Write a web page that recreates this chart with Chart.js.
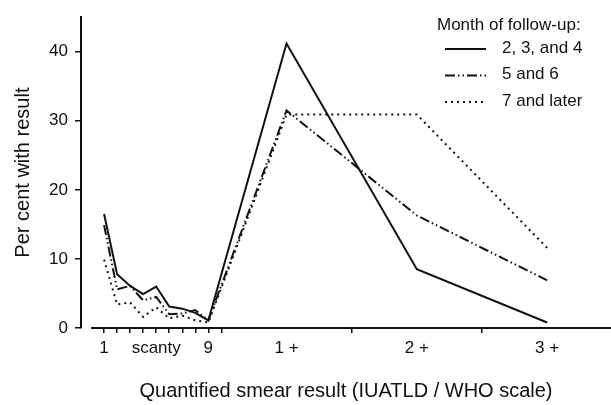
<!DOCTYPE html>
<html>
<head>
<meta charset="utf-8">
<script src="https://cdn.jsdelivr.net/npm/chart.js@4.4.1/dist/chart.umd.min.js"></script>
<style>
  html, body { margin: 0; padding: 0; background: #fff; }
  #wrap { width: 611px; height: 405px; }
</style>
</head>
<body>
<div id="wrap"><canvas id="myChart" width="611" height="405"></canvas></div>
<script>
// smear grades: scanty 1..9 then 1+, 2+, 3+
const categories = ["1", "2", "3", "4", "5", "6", "7", "8", "9", "1 +", "2 +", "3 +"];
const positions = [1, 2, 3, 4, 5, 6, 7, 8, 9, 15, 25, 35];

const seriesLabels = ["2, 3, and 4", "5 and 6", "7 and later"];
const months234 = [16.5, 7.8, 6.1, 4.9, 6.0, 3.1, 2.8, 2.2, 1.1, 41.2, 8.5, 0.8];
const months56 = [14.9, 5.6, 6.1, 4.0, 4.5, 2.0, 2.1, 2.6, 1.1, 31.5, 16.3, 6.9];
const months7plus = [9.9, 3.4, 3.7, 1.6, 3.0, 1.4, 1.8, 1.1, 0.8, 30.9, 30.9, 11.6];

// tick labels shown under the axis, tick marks drawn at the rest
const xTickLabels = { 1: "1", 5: "scanty", 9: "9", 15: "1 +", 25: "2 +", 35: "3 +" };
const xTickMarks = [1, 2, 3, 4, 5, 6, 7, 8, 9, 10, 20, 30];
const yTicks = [0, 10, 20, 30, 40];

const ink = "#111";
const font = "'Liberation Sans', Arial, Helvetica, sans-serif";

function pts(vals) {
	return vals.map((v, i) => ({ x: positions[i], y: v }));
}

const styles = [
	{ dash: [] },
	{ dash: [10, 3, 1.5, 3, 1.5, 3] },
	{ dash: [2, 4] },
];

const datasets = [months234, months56, months7plus].map((vals, i) => ({
	label: seriesLabels[i],
	data: pts(vals),
	borderColor: ink,
	borderWidth: 2,
	borderDash: styles[i].dash,
	pointRadius: 0,
	fill: false,
	tension: 0,
}));

// x axis line starts a bit right of the y axis, like the original
const axisLine = {
	id: "axisLine",
	beforeDatasetsDraw(chart) {
		const { ctx, chartArea } = chart;
		const x0 = chart.scales.x.getPixelForValue(0);
		ctx.save();
		ctx.strokeStyle = ink;
		ctx.lineWidth = 2;
		ctx.beginPath();
		ctx.moveTo(x0, chartArea.bottom);
		ctx.lineTo(chartArea.right, chartArea.bottom);
		ctx.stroke();
		ctx.restore();
	},
};

// legend in the upper right corner
const cornerLegend = {
	id: "cornerLegend",
	afterDraw(chart) {
		const { ctx } = chart;
		ctx.save();
		ctx.fillStyle = ink;
		ctx.font = "17px " + font;
		ctx.textBaseline = "middle";
		ctx.textAlign = "left";
		ctx.fillText("Month of follow-up:", 437, 25);
		chart.data.datasets.forEach((ds, i) => {
			const y = 49 + i * 26.5;
			ctx.strokeStyle = ds.borderColor;
			ctx.lineWidth = 2;
			ctx.setLineDash(ds.borderDash);
			ctx.beginPath();
			ctx.moveTo(445, y);
			ctx.lineTo(486, y);
			ctx.stroke();
			ctx.setLineDash([]);
			ctx.fillText(ds.label, 502, y - 1);
		});
		ctx.restore();
	},
};

new Chart(document.getElementById("myChart").getContext("2d"), {
	type: "line",
	data: { datasets },
	options: {
		responsive: false,
		animation: false,
		devicePixelRatio: 1,
		layout: { padding: { top: 12, right: 0, bottom: 0, left: 0 } },
		plugins: { legend: { display: false }, tooltip: { enabled: false } },
		scales: {
			x: {
				type: "linear",
				min: -0.77,
				max: 39.9,
				afterFit(s) { s.height = 77; },
				afterBuildTicks(s) {
					const vals = new Set([...xTickMarks, ...Object.keys(xTickLabels).map(Number)]);
					s.ticks = [...vals].sort((a, b) => a - b).map((v) => ({ value: v }));
				},
				border: { display: false },
				grid: {
					drawOnChartArea: false,
					drawTicks: true,
					tickLength: 5,
					lineWidth: 1.5,
					tickColor: (c) => (c.tick && xTickMarks.includes(c.tick.value) ? ink : "rgba(0,0,0,0)"),
				},
				ticks: {
					autoSkip: false,
					maxRotation: 0,
					padding: 5,
					color: ink,
					font: { family: font, size: 17 },
					callback: (v) => xTickLabels[v] || "",
				},
				title: {
					display: true,
					text: "Quantified smear result (IUATLD / WHO scale)",
					color: ink,
					font: { family: font, size: 20 },
					padding: { top: 0, bottom: 2 },
				},
			},
			y: {
				min: 0,
				max: 45,
				afterFit(s) { s.width = 81; },
				afterBuildTicks(s) {
					s.ticks = yTicks.map((v) => ({ value: v }));
				},
				border: { display: true, color: ink, width: 2 },
				grid: {
					drawOnChartArea: false,
					drawTicks: true,
					tickLength: 6,
					lineWidth: 1.5,
					tickColor: ink,
				},
				ticks: {
					padding: 7,
					color: ink,
					font: { family: font, size: 17 },
				},
				title: {
					display: true,
					text: "Per cent with result",
					color: ink,
					font: { family: font, size: 20 },
					padding: { top: 11, bottom: 0 },
				},
			},
		},
	},
	plugins: [axisLine, cornerLegend],
});
</script>
</body>
</html>
